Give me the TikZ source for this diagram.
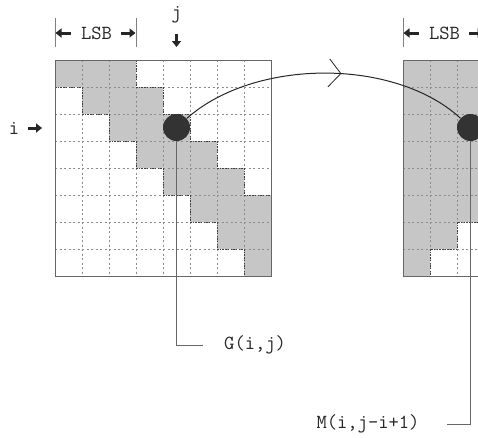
\documentclass[tikz,border=0pt]{standalone}
\usetikzlibrary{arrows.meta,decorations.markings}
\definecolor{shadegray}{HTML}{C6C6C6}
\definecolor{inkgray}{HTML}{333333}
\begin{document}
\begin{tikzpicture}[x=1pt,y=-1pt,
  gridline/.style={draw=black!45, line width=0.5pt, dash pattern=on 2pt off 2.5pt},
  stair/.style={draw=black!75, line width=0.7pt, dash pattern=on 1.5pt off 1.2pt},
  frame/.style={draw=black!60, line width=0.7pt},
  dot/.style={circle, fill=inkgray, minimum size=27pt, inner sep=0pt},
  lbl/.style={font=\ttfamily\fontsize{20}{22}\selectfont, inner sep=0pt, text=black!85},
  fatarrow/.style={line width=3pt, -{Triangle[length=6pt,width=9pt]}, draw=black!85},
  tickline/.style={draw=black!50, line width=0.5pt},
  lead/.style={draw=black!60, line width=0.6pt},
  arc/.style={draw=black!85, line width=1pt,
    postaction={decorate, decoration={markings,
      mark=at position 0.56 with {\arrow[line width=0.8pt]{Straight Barb[length=12pt,width=28pt]}}}}}]

\useasboundingbox (0,0) rectangle (478,437);
\clip (0,0) rectangle (478,437);

% ---------- left matrix G ----------
\begin{scope}[xshift=55pt, yshift=-60pt, x=27pt, y=-27pt]
  \foreach \r in {0,...,7}{
    \foreach \k in {0,1,2}{
      \pgfmathtruncatemacro\cc{\r+\k}
      \ifnum\cc<8 \fill[shadegray] (\cc,\r) rectangle ++(1,1); \fi
    }
  }
  \foreach \k in {1,...,7}{
    \draw[gridline] (\k,0) -- (\k,8);
    \draw[gridline] (0,\k) -- (8,\k);
  }
  \draw[stair] (3,0) -- (3,1) -- (4,1) -- (4,2) -- (5,2) -- (5,3) -- (6,3) -- (6,4) -- (7,4) -- (7,5) -- (8,5);
  \draw[stair] (0,1) -- (1,1) -- (1,2) -- (2,2) -- (2,3) -- (3,3) -- (3,4) -- (4,4) -- (4,5) -- (5,5) -- (5,6) -- (6,6) -- (6,7) -- (7,7) -- (7,8);
  \draw[frame] (0,0) rectangle (8,8);
\end{scope}

% ---------- right matrix M ----------
\begin{scope}[xshift=403pt, yshift=-60pt, x=27pt, y=-27pt]
  \fill[shadegray] (0,0) rectangle (3,6);
  \fill[shadegray] (0,6) rectangle (2,7);
  \fill[shadegray] (0,7) rectangle (1,8);
  \foreach \k in {1,2}{
    \draw[gridline] (\k,0) -- (\k,8);
  }
  \foreach \k in {1,...,7}{
    \draw[gridline] (0,\k) -- (3,\k);
  }
  \draw[stair] (3,6) -- (2,6) -- (2,7) -- (1,7) -- (1,8);
  \draw[frame] (0,0) rectangle (3,8);
\end{scope}

% ---------- elements ----------
\node[dot] (G) at (176.5,127.5) {};
\node[dot] (M) at (470.5,127.5) {};

\draw[arc] (G) .. controls (255,58) and (395,58) .. (M);

% ---------- leader lines and labels ----------
\node[lbl, anchor=west] (Glab) at (224,345) {G(i,j)};
\coordinate (gend) at (203,345);
\draw[lead] (G.south) |- (gend);

\node[lbl] (Mlab) at (368,424) {M(i,j-i+1)};
\coordinate (mend) at (447,424);
\draw[lead] (M.south) |- (mend);

% ---------- LSB markers ----------
\node[lbl] (lsbA) at (96.5,33) {LSB};
\coordinate (tA0) at (55,18);   \coordinate (tA0b) at (55,47);
\coordinate (tA1) at (136,18);  \coordinate (tA1b) at (136,47);
\draw[tickline] (tA0) -- (tA0b);
\draw[tickline] (tA1) -- (tA1b);
\coordinate (aA0) at (71,33);  \coordinate (aA0e) at (55.5,33);
\coordinate (aA1) at (121,33); \coordinate (aA1e) at (135.5,33);
\draw[fatarrow] (aA0) -- (aA0e);
\draw[fatarrow] (aA1) -- (aA1e);

\node[lbl] (lsbB) at (444.5,33) {LSB};
\coordinate (tB0) at (403,18);  \coordinate (tB0b) at (403,47);
\draw[tickline] (tB0) -- (tB0b);
\coordinate (aB0) at (419,33);  \coordinate (aB0e) at (403.5,33);
\coordinate (aB1) at (469,33);  \coordinate (aB1e) at (483.5,33);
\draw[fatarrow] (aB0) -- (aB0e);
\draw[fatarrow] (aB1) -- (aB1e);

% ---------- index markers ----------
\node[lbl] (jlab) at (176.5,15) {j};
\coordinate (ja) at (176.5,34); \coordinate (jb) at (176.5,47);
\draw[fatarrow] (ja) -- (jb);

\node[lbl] (ilab) at (14,128) {i};
\coordinate (ia) at (28,128); \coordinate (ib) at (42,128);
\draw[fatarrow] (ia) -- (ib);
\end{tikzpicture}
\end{document}
